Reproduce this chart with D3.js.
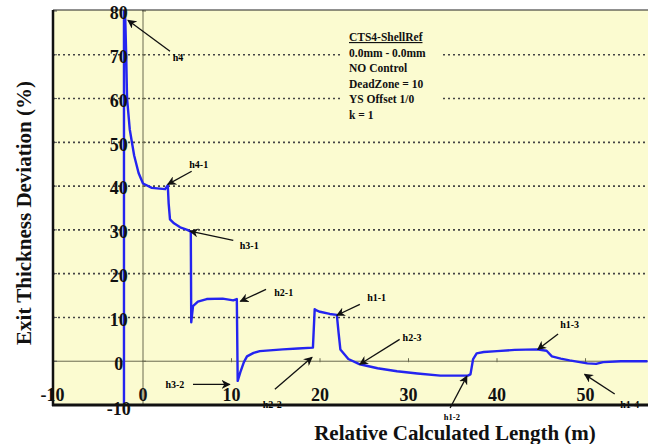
<!DOCTYPE html>
<html><head><meta charset="utf-8">
<script src="https://cdn.jsdelivr.net/npm/d3@7"></script>
<style>body{margin:0;background:#fff}svg{display:block}</style>
</head><body>
<script>
// ---- data ----
const curveX = [-2.15,-2.15,-2.0,-1.9,-1.8,-1.5,-1.0,-0.5,0,1,2.5,2.8,2.9,3.05,3.5,4.2,5.0,5.4,5.45,5.65,6.2,7.2,9,10.2,10.6,10.7,11.0,11.4,11.75,12.5,13.2,15.8,17.5,19.2,19.4,19.6,20,21.1,21.9,22.1,22.3,23.2,24.5,26.5,28.7,31,33.6,36.7,37.0,37.3,37.7,38.5,40,42,44.5,45.6,46.2,47.2,48.2,50.2,51.2,52,54,57];
const curveY = [-10,80,78,70,60,53,47,43,40.6,39.6,39.3,40.2,36,32.4,31.5,30.6,30,29.6,8.9,12.6,13.6,14.2,14.3,13.9,14.2,-4.5,-2.5,-0.2,1.1,1.9,2.3,2.7,2.9,3.1,11.9,11.6,11.3,10.8,10.6,6.5,2.7,0.5,-0.7,-1.6,-2.3,-2.8,-3.3,-3.3,-3.0,0.5,1.8,2.1,2.3,2.6,2.7,2.4,1.1,0.6,0.2,-0.5,-0.6,-0.2,0,0];
const xTicks = [-10,0,10,20,30,40,50];
const yTicks = [-10,0,10,20,30,40,50,60,70,80];
const gridYs = [10,20,30,40,50,60,70];
const noteLabels = ["h4","h4-1","h3-1","h2-1","h1-1","h2-3","h1-3","h3-2","h2-2","h1-2","h1-4"];
const noteTextX  = [3.95,6.3,12.0,15.9,26.4,30.4,48.2,3.6,14.6,34.9,55.0];
const noteTextY  = [69.4,45,26.5,15.8,14.6,5.5,8.4,-5.3,-9.9,-12.8,-9.9];
const noteFromX  = [3.05,5.5,10.2,13.9,24.5,29,46.9,5.65,14.9,34.7,53.3];
const noteFromY  = [70.8,43.4,27.6,16.4,13,5,6.2,-5.3,-6.4,-10.7,-7.5];
const noteToX    = [-1.7,2.8,5.3,11,21.9,24.5,44.6,9.8,19.1,36.6,49.9];
const noteToY    = [77.9,40.4,29.7,13.7,10.5,-0.7,2.7,-5.3,0.9,-3.4,-3];
const infoLines = ["CTS4-ShellRef","0.0mm - 0.0mm","NO Control","DeadZone = 10","YS Offset 1/0","k = 1"];

// ---- chart ----
const W=658,H=444;
const svg=d3.select("body").append("svg").attr("width",W).attr("height",H);
const x=d3.scaleLinear().domain([-10,57.06]).range([54.5,648]);
const y=d3.scaleLinear().domain([-10,80]).range([405,11]);
const serif="'Liberation Serif','Times New Roman',serif";

const defs=svg.append("defs");
defs.append("marker").attr("id","ah").attr("viewBox","0 0 10 10").attr("refX",9).attr("refY",5)
  .attr("markerWidth",7).attr("markerHeight",7).attr("orient","auto-start-reverse")
  .append("path").attr("d","M0,0 L10,5 L0,10 L3,5 z").attr("fill","#111");

// background
svg.append("rect").attr("x",53).attr("y",10).attr("width",648-53).attr("height",405-10).attr("fill","#FBFBD0");

// grid
svg.append("g").selectAll("line").data(gridYs).join("line")
  .attr("x1",53).attr("x2",648).attr("y1",d=>y(d)).attr("y2",d=>y(d))
  .attr("stroke","#444").attr("stroke-width",1.6).attr("stroke-dasharray","2,3");

// zero axes
svg.append("line").attr("x1",53).attr("x2",648).attr("y1",y(0)).attr("y2",y(0)).attr("stroke","#6a6a50").attr("stroke-width",1);
svg.append("line").attr("x1",x(0)).attr("x2",x(0)).attr("y1",10).attr("y2",405).attr("stroke","#6a6a50").attr("stroke-width",1);
svg.append("g").selectAll("line").data(xTicks.filter(d=>d>0)).join("line")
  .attr("x1",d=>x(d)).attr("x2",d=>x(d)).attr("y1",y(0)-3).attr("y2",y(0)+1).attr("stroke","#6a6a50");
svg.append("g").selectAll("line").data(yTicks).join("line")
  .attr("x1",x(0)-1).attr("x2",x(0)+3).attr("y1",d=>y(d)).attr("y2",d=>y(d)).attr("stroke","#6a6a50");
svg.append("g").selectAll("line").data(yTicks).join("line")
  .attr("x1",53).attr("x2",57).attr("y1",d=>y(d)).attr("y2",d=>y(d)).attr("stroke","#555");

// info box
const ib=svg.append("g");
ib.append("rect").attr("x",343).attr("y",28).attr("width",98).attr("height",94).attr("fill","#FBFBD0");
ib.selectAll("text").data(infoLines).join("text")
  .attr("x",349).attr("y",(d,i)=>41+i*15.6).attr("font-family",serif).attr("font-weight","bold")
  .attr("font-size",11.5).attr("fill","#111").attr("text-decoration",(d,i)=>i===0?"underline":null).text(d=>d);

// curve
const pts=curveX.map((d,i)=>[d,curveY[i]]);
svg.append("path").datum(pts).attr("fill","none").attr("stroke","#2424F0").attr("stroke-width",2.4)
  .attr("stroke-linejoin","round")
  .attr("d",d3.line().x(d=>x(d[0])).y(d=>y(d[1])));

// annotations
const notes=noteLabels.map((l,i)=>({l,tx:noteTextX[i],ty:noteTextY[i],fx:noteFromX[i],fy:noteFromY[i],ex:noteToX[i],ey:noteToY[i]}));
svg.append("g").selectAll("line").data(notes).join("line")
  .attr("x1",d=>x(d.fx)).attr("y1",d=>y(d.fy)).attr("x2",d=>x(d.ex)).attr("y2",d=>y(d.ey))
  .attr("stroke","#111").attr("stroke-width",1.3).attr("marker-end","url(#ah)");
svg.append("g").selectAll("text").data(notes).join("text")
  .attr("x",d=>x(d.tx)).attr("y",d=>y(d.ty)).attr("dy","0.35em").attr("text-anchor","middle")
  .attr("font-family",serif).attr("font-weight","bold").attr("font-size",d=>d.l==="h1-2"?8.5:10).attr("fill","#000").text(d=>d.l);

// borders
svg.append("line").attr("x1",53).attr("x2",648).attr("y1",10).attr("y2",10).attr("stroke","#222").attr("stroke-width",1.2);
svg.append("line").attr("x1",53).attr("x2",53).attr("y1",10).attr("y2",406).attr("stroke","#111").attr("stroke-width",2.5);
svg.append("line").attr("x1",52).attr("x2",648).attr("y1",405).attr("y2",405).attr("stroke","#111").attr("stroke-width",2.8);

// tick labels
svg.append("g").selectAll("text").data(xTicks).join("text")
  .attr("x",d=>d===-10?x(d)-2:x(d)).attr("y",395).attr("dy","0.35em").attr("text-anchor","middle")
  .attr("font-family",serif).attr("font-weight","bold").attr("font-size",18).attr("fill","#111").text(d=>d);
svg.append("g").selectAll("text").data(yTicks).join("text")
  .attr("x",x(-2.75)).attr("y",d=>d===-10?y(d)+4:y(d)+2).attr("dy","0.35em").attr("text-anchor","middle")
  .attr("font-family",serif).attr("font-weight","bold").attr("font-size",18).attr("fill","#111").text(d=>d);

// titles
svg.append("text").attr("x",455).attr("y",440).attr("text-anchor","middle").attr("font-family",serif)
  .attr("font-weight","bold").attr("font-size",21).attr("fill","#111").text("Relative Calculated Length (m)");
svg.append("text").attr("transform","translate(31,213) rotate(-90)").attr("text-anchor","middle").attr("font-family",serif)
  .attr("font-weight","bold").attr("font-size",21).attr("fill","#111").text("Exit Thickness Deviation (%)");
</script>
</body></html>
